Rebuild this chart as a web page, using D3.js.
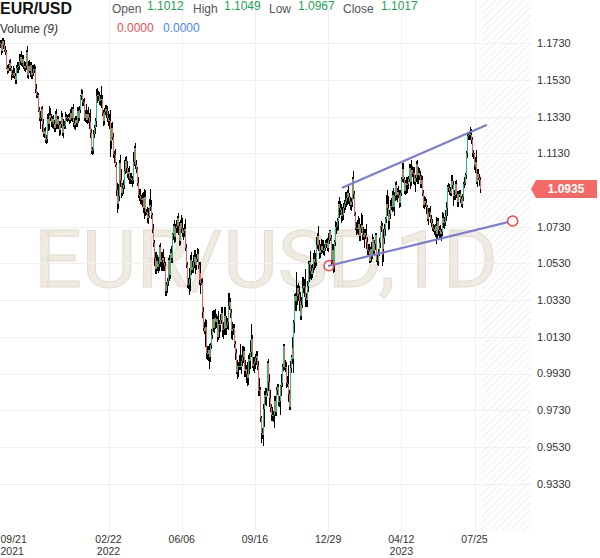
<!DOCTYPE html>
<html><head><meta charset="utf-8">
<script src="https://cdn.jsdelivr.net/npm/d3@7"></script>
<style>html,body{margin:0;padding:0;background:#fff}svg{display:block}</style>
</head><body><svg id="chart" width="600" height="558"></svg>
<script>
// ---------------- DATA ----------------
const symbol = "EUR/USD";
const watermark = "EUR/USD,1D";
const startDate = "2021-09-21";          // first daily bar (weekdays only)
const firstOpen = 1.1730;
// daily closes, one line per week
const closes = [
1.1725,1.1690,1.1740,1.1720,
1.1695,1.1683,1.1597,1.1580,1.1595,
1.1620,1.1597,1.1555,1.1555,1.1570,
1.1552,1.1530,1.1595,1.1595,1.1600,
1.1608,1.1635,1.1655,1.1623,1.1645,
1.1607,1.1597,1.1605,1.1680,1.1558,
1.1607,1.1580,1.1610,1.1555,1.1567,
1.1588,1.1590,1.1480,1.1445,1.1445,
1.1368,1.1320,1.1320,1.1370,1.1287,
1.1235,1.1250,1.1200,1.1208,1.1317,
1.1290,1.1337,1.1320,1.1300,1.1315,
1.1287,1.1268,1.1343,1.1290,1.1315,
1.1285,1.1258,1.1290,1.1330,1.1240,
1.1280,1.1280,1.1328,1.1325,1.1320,
1.1327,1.1310,1.1350,1.1325,1.1370,
1.1295,1.1285,1.1313,1.1295,1.1360,
1.1325,1.1367,1.1440,1.1455,1.1412,
1.1408,1.1325,1.1345,1.1312,1.1345,
1.1325,1.1302,1.1240,1.1145,1.1146,
1.1235,1.1270,1.1305,1.1440,1.1450,
1.1440,1.1415,1.1425,1.1425,1.1350,
1.1305,1.1357,1.1370,1.1360,1.1320,
1.1305,1.1310,1.1307,1.1195,1.1270,
1.1220,1.1125,1.1120,1.1065,1.0930,
1.0855,1.0900,1.1075,1.0985,1.0915,
1.0940,1.0955,1.1035,1.1090,1.1050,
1.1015,1.1030,1.0995,1.0995,1.0985,
1.0985,1.1085,1.1160,1.1065,1.1045,
1.0970,1.0905,1.0900,1.0880,1.0875,
1.0885,1.0830,1.0890,1.0810,1.0810,
1.0780,1.0790,1.0850,1.0835,1.0795,
1.0715,1.0640,1.0560,1.0500,1.0545,
1.0510,1.0525,1.0620,1.0540,1.0550,
1.0560,1.0530,1.0515,1.0380,1.0410,
1.0435,1.0550,1.0465,1.0585,1.0560,
1.0690,1.0735,1.0675,1.0725,1.0735,
1.0775,1.0735,1.0650,1.0750,1.0720,
1.0695,1.0705,1.0715,1.0615,1.0520,
1.0410,1.0420,1.0445,1.0550,1.0495,
1.0510,1.0535,1.0565,1.0520,1.0555,
1.0580,1.0520,1.0440,1.0480,1.0425,
1.0425,1.0265,1.0180,1.0160,1.0185,
1.0040,1.0035,1.0060,1.0020,1.0085,
1.0140,1.0225,1.0180,1.0230,1.0210,
1.0225,1.0130,1.0200,1.0195,1.0220,
1.0260,1.0165,1.0170,1.0245,1.0180,
1.0195,1.0210,1.0300,1.0320,1.0260,
1.0160,1.0170,1.0180,1.0090,1.0040,
0.9940,0.9970,0.9970,0.9970,0.9965,
1.0000,1.0020,1.0055,0.9945,0.9955,
0.9925,0.9905,1.0010,1.0000,1.0045,
1.0120,0.9970,0.9980,0.9995,1.0015,
1.0025,0.9970,0.9835,0.9840,0.9690,
0.9605,0.9595,0.9735,0.9815,0.9800,
0.9825,0.9985,0.9885,0.9795,0.9740,
0.9705,0.9705,0.9705,0.9780,0.9720,
0.9840,0.9855,0.9775,0.9780,0.9860,
0.9880,0.9965,1.0080,0.9965,0.9965,
0.9880,0.9875,0.9820,0.9750,0.9960,
1.0020,1.0070,1.0010,1.0205,1.0355,
1.0325,1.0350,1.0395,1.0365,1.0325,
1.0245,1.0305,1.0395,1.0405,1.0400,
1.0340,1.0330,1.0405,1.0525,1.0535,
1.0490,1.0470,1.0505,1.0555,1.0535,
1.0535,1.0630,1.0680,1.0630,1.0585,
1.0605,1.0625,1.0605,1.0595,1.0615,
1.0640,1.0640,1.0615,1.0660,1.0705,
1.0670,1.0550,1.0605,1.0520,1.0645,
1.0730,1.0735,1.0760,1.0855,1.0830,
1.0820,1.0790,1.0795,1.0830,1.0855,
1.0870,1.0885,1.0915,1.0890,1.0870,
1.0850,1.0865,1.0990,1.0910,1.0795,
1.0725,1.0725,1.0715,1.0745,1.0680,
1.0725,1.0740,1.0685,1.0675,1.0695,
1.0685,1.0645,1.0605,1.0595,1.0545,
1.0610,1.0575,1.0665,1.0600,1.0635,
1.0685,1.0550,1.0545,1.0580,1.0640,
1.0730,1.0735,1.0575,1.0610,1.0670,
1.0720,1.0770,1.0855,1.0830,1.0760,
1.0800,1.0845,1.0840,1.0905,1.0840,
1.0900,1.0955,1.0905,1.0920,1.0905,
1.0860,1.0915,1.0990,1.1045,1.0990,
1.0925,1.0970,1.0955,1.0965,1.0990,
1.1050,1.0975,1.1040,1.1025,1.1020,
1.0975,1.0995,1.1070,1.1010,1.1020,
1.1005,1.0960,1.0985,1.0915,1.0850,
1.0870,1.0860,1.0840,1.0770,1.0805,
1.0810,1.0770,1.0750,1.0725,1.0720,
1.0705,1.0735,1.0690,1.0760,1.0710,
1.0710,1.0690,1.0700,1.0780,1.0750,
1.0755,1.0790,1.0830,1.0945,1.0940,
1.0925,1.0915,1.0980,1.0955,1.0895,
1.0905,1.0960,1.0910,1.0865,1.0910,
1.0910,1.0880,1.0855,1.0890,1.0965,
1.0970,1.1010,1.1130,1.1225,1.1230,
1.1235,1.1230,1.1200,1.1130,1.1125,
1.1065,1.1055,1.1085,1.0975,1.1015,
1.0995,1.0985,1.0935
];
// high above the candle body, in pips
const wickUp = [
15,25,20,18,
30,20,10,15,20, 20,25,10,30,35, 25,15,15,25,25, 20,35,15,30,20, 20,25,25,12,35,
25,30,15,20,45, 25,25,15,25,20, 15,15,40,15,20, 30,20,25,20,25, 35,50,40,25,20,
25,25,20,30,20, 20,20,15,30,20, 35,25,25,15,15, 15,25,20,35,15, 30,25,20,20,20,
25,20,10,27,20, 15,25,20,55,20, 40,25,70,20,20, 20,15,20,40,35, 20,25,20,70,20,
15,20,25,25,30, 40,30,35,60,25, 30,20,20,35,20, 40,60,20,45,60, 30,30,60,20,25,
40,20,30,25,25, 20,50,10,25,30, 10,30,30,35,25, 30,35,45,40,15, 25,40,30,85,40,
10,30,20,30,48, 30,40,10,20,40, 30,50,35,20,20, 15,10,25,25,40, 8,10,30,20,30,
12,30,20,15,45, 55,20,30,59,20, 20,30,60,25,40, 35,40,40,40,25, 35,26,20,30,60,
20,25,30,30,40, 35,40,20,30,10, 30,45,50,48,50, 30,20,70,20,35, 35,30,40,50,45,
50,20,70,48,20, 20,40,20,20,15, 25,35,20,60,120, 30,60,25,20,50, 20,65,20,30,68,
78,20,40,25,20, 25,25,30,65,15, 10,30,30,20,38, 25,14,25,40,45, 25,40,20,27,28,
17,20,20,30,10, 50,15,13,10,40, 30,35,100,20,36, 13,25,60,15,10, 11,131,15,30,40,
50,40,60,50,40, 97,30,30,20,10, 60,30,20,30,50, 50,43,15,56,30, 30,40,30,50,20,
20,25,30,35,8, 5,13,30,30,15, 30,20,20,15,35, 40,35,40,30,20, 50,35,15,40,25,
20,20,10,43,15, 15,30,40,45,30, 20,65,55,45,20, 20,60,30,30,40, 10,35,25,10,25,
10,9,30,30,30, 5,25,15,25,45, 25,15,50,75,70, 20,30,40,20,35, 20,18,25,20,30,
25,15,10,30,30, 10,15,30,35,15, 20,20,55,20,30, 35,15,20,21,35, 30,30,25,20,15,
25,20,20,10,25, 20,35,25,20,20, 20,10,50,15,20, 25,30,20,30,25, 30,30,35,10,25,
20,20,30,32,25, 25,20,25,15,15, 20,20,20,20,10, 30,10,10,20,15, 15,41,30,20,20,
5,25,25,64,30,
30,20,15
];
// low below the candle body, in pips
const wickDown = [
20,25,15,22,
15,20,10,20,15, 15,20,25,15,15, 15,20,20,20,25, 30,25,25,15,25, 20,20,25,20,15,
25,15,35,20,20, 15,20,20,15,15, 15,15,55,15,40, 15,20,14,20,20, 40,35,15,25,30,
25,20,20,30,25, 20,35,30,20,15, 25,20,20,20,20, 15,20,15,20,25, 20,20,30,20,20,
30,20,20,20,25, 20,20,25,15,20, 30,40,25,20,24, 20,20,35,30,35, 25,20,25,50,15,
25,20,20,35,20, 25,40,20,85,40, 20,20,45,10,30, 49,30,30,40,30, 20,30,20,20,30,
20,30,30,35,20, 40,25,25,20,20, 20,20,30,25,25, 40,25,60,20,15, 30,35,15,20,25,
20,20,45,30,30, 20,30,35,30,50, 60,40,25,25,30, 40,30,30,20,30, 30,35,35,30,30,
40,50,25,20,25, 20,40,30,20,15, 12,20,61,63,30, 20,30,30,50,25, 20,20,25,40,60,
15,30,18,15,88, 30,30,37,68,30, 20,20,25,27,40, 30,30,20,70,40, 20,35,45,30,40,
40,25,45,25,25, 40,50,30,20,35, 15,40,60,20,15, 35,30,35,35,35, 48,45,40,71,45,
25,10,25,45,40, 40,20,25,27,22, 52,24,59,99,40, 47,20,50,45,20, 35,35,40,73,20,
20,25,20,25,75, 53,25,20,15,25, 30,20,45,20,20, 25,30,30,75,55, 55,54,45,40,55,
22,25,20,25,55, 50,40,40,30,95, 45,30,20,30,40, 30,20,20,35,30, 25,25,20,20,25,
20,25,20,25,25, 20,31,30,40,37, 20,40,30,50,50, 24,40,30,30,25, 35,35,35,35,25,
30,35,30,30,5, 15,40,25,30,30, 30,30,30,20,63, 20,35,30,25,12, 12,35,20,30,20,
30,15,21,30,10, 25,30,59,35,35, 35,40,20,40,47, 40,30,20,30,25, 52,30,30,40,20,
30,25,20,15,20, 15,20,45,40,30, 15,40,25,25,55, 20,55,20,45,45, 20,20,20,20,20,
25,20,40,10,30, 20,20,20,20,20, 20,30,55,25,30, 40,20,40,20,25, 30,20,30,40,20,
20,20,20,20,51, 20,30,25,30,30, 20,20,20,22,20, 25,15,20,25,25, 30,25,20,20,25,
25,35,15,10,30,
13,33,23
];
const priceTicks = [1.1730,1.1530,1.1330,1.1130,1.0930,1.0730,1.0530,1.0330,1.0130,0.9930,0.9730,0.9530,0.9330];
const dateTicks = ["2021-09-21","2022-02-22","2022-06-06","2022-09-16","2022-12-29","2023-04-12","2023-07-25"];
const dateTickLabels = [["09/21","2021"],["02/22","2022"],["06/06"],["09/16"],["12/29"],["04/12","2023"],["07/25"]];
// trend lines: [bar index, price]
const upperTrend = [[346.8,1.0943],[491.7,1.1283]];
const lowerTrend = [[332.9,1.0517],[518.6,1.0761]];
const headerLabels = ["Open","High","Low","Close"];
const headerValues = ["1.1012","1.1049","1.0967","1.1017"];
const volumeValues = ["0.0000","0.0000"];

// ---------------- LAYOUT ----------------
const W = 600, H = 558, plotRight = 531, plotBottom = 531;
const FONT = "Arial, 'Liberation Sans', sans-serif";
const UP = "#1fc27a", DOWN = "#f0615c";

// weekday dates
const dates = [];
{ let t = Date.parse(startDate + "T00:00:00Z");
  while (dates.length < closes.length) { const d = new Date(t); const wd = d.getUTCDay();
    if (wd > 0 && wd < 6) dates.push(d.toISOString().slice(0,10)); t += 86400000; } }
const tickIdx = dateTicks.map(d => dates.indexOf(d));

const x = d3.scaleLinear().domain([tickIdx[1], tickIdx[6]]).range([108.5, 474.5]);
const y = d3.scaleLinear().domain([0.9330, 1.1730]).range([483.6, 43.2]);

const bars = closes.map((c, i) => {
  const o = i === 0 ? firstOpen : closes[i-1];
  return {i, o, c, hi: Math.max(o,c) + wickUp[i]/1e4, lo: Math.min(o,c) - wickDown[i]/1e4};
});

const svg = d3.select("#chart");
svg.append("rect").attr("width", W).attr("height", H).attr("fill", "#fff");
const defs = svg.append("defs");
defs.append("clipPath").attr("id","clip").append("rect").attr("x",0).attr("y",0).attr("width",plotRight).attr("height",plotBottom);
const pat = defs.append("pattern").attr("id","hatch").attr("patternUnits","userSpaceOnUse")
  .attr("width",5).attr("height",5).attr("patternTransform","rotate(45)");
pat.append("line").attr("x1",0).attr("y1",0).attr("x2",0).attr("y2",5).attr("stroke","#e6e6e6").attr("stroke-width",1.2);

// future (hatched) area
const lastX = x(closes.length - 1);
svg.append("rect").attr("x", lastX + 1).attr("y", 0).attr("width", plotRight - lastX - 1).attr("height", plotBottom)
  .attr("fill","url(#hatch)");

// watermark
svg.append("text").attr("x", 34).attr("y", 287).attr("font-family","Roboto, sans-serif").attr("font-size", 80)
  .attr("textLength", 464).attr("lengthAdjust","spacingAndGlyphs")
  .attr("fill","#efebe2").attr("stroke","#e3ddcf").attr("stroke-width",1).text(watermark);

// grid
const grid = svg.append("g").attr("shape-rendering","crispEdges");
grid.selectAll("line.h").data(priceTicks).join("line").attr("class","h")
  .attr("x1",0).attr("x2",plotRight).attr("y1",d=>Math.round(y(d))+0.5).attr("y2",d=>Math.round(y(d))+0.5)
  .attr("stroke","#f0f0f0");
grid.selectAll("line.v").data(tickIdx.slice(1)).join("line").attr("class","v")
  .attr("y1",0).attr("y2",plotBottom).attr("x1",d=>Math.round(x(d))+0.5).attr("x2",d=>Math.round(x(d))+0.5)
  .attr("stroke","#f0f0f0");

// candles
const cg = svg.append("g").attr("clip-path","url(#clip)").attr("shape-rendering","crispEdges");
const cand = cg.selectAll("g").data(bars).join("g");
cand.append("rect").attr("x", d => Math.round(x(d.i))).attr("width", 1)
  .attr("y", d => y(d.hi)).attr("height", d => y(d.lo) - y(d.hi)).attr("fill", "#000");
cand.append("rect").attr("x", d => Math.round(x(d.i))).attr("width", 1)
  .attr("y", d => y(Math.max(d.o,d.c))).attr("height", d => Math.max(1, Math.abs(y(d.o) - y(d.c))))
  .attr("fill", d => d.c >= d.o ? UP : DOWN);

// trend lines
const line = d3.line().x(d => x(d[0])).y(d => y(d[1]));
[upperTrend, lowerTrend].forEach(t => {
  svg.append("path").attr("d", line(t)).attr("fill","none").attr("stroke","#7c7ec8").attr("stroke-width",2.2)
    .attr("stroke-linecap","round");
});
svg.append("circle").attr("cx", x(lowerTrend[0][0])).attr("cy", y(lowerTrend[0][1])).attr("r", 5)
  .attr("fill","none").attr("stroke","#ee4444").attr("stroke-width",1.5);
svg.append("circle").attr("cx", x(lowerTrend[1][0])).attr("cy", y(lowerTrend[1][1])).attr("r", 5)
  .attr("fill","#fff").attr("stroke","#ee4444").attr("stroke-width",1.5);

// last price tag position
const lastClose = closes[closes.length-1];
const ly = y(lastClose);

// price axis labels (the one hidden under the price tag is not drawn)
svg.append("g").selectAll("text").data(priceTicks.filter(d => Math.abs(y(d) - ly) > 12)).join("text")
  .attr("x", 537).attr("y", d => y(d)).attr("dy","0.36em")
  .attr("font-family", FONT).attr("font-size", 11).attr("fill","#333")
  .text(d => d.toFixed(4));

// last price tag
svg.append("path").attr("d", `M531,${ly} L536,${ly-9} L597,${ly-9} L597,${ly+9} L536,${ly+9} Z`).attr("fill","#f26b67");
svg.append("text").attr("x", 566).attr("y", ly).attr("dy","0.36em").attr("text-anchor","middle")
  .attr("font-family", FONT).attr("font-size", 12).attr("font-weight","bold").attr("fill","#fff").text(lastClose.toFixed(4));

// date axis labels
const dg = svg.append("g").attr("font-family", FONT).attr("font-size", 10.5).attr("fill","#333");
tickIdx.forEach((ti, k) => {
  const first = k === 0;
  dateTickLabels[k].forEach((s, j) => dg.append("text")
    .attr("x", first ? 0.5 : x(ti)).attr("y", 542.5 + j*12)
    .attr("text-anchor", first ? "start" : "middle").text(s));
});

// header
const hd = svg.append("g").attr("font-family", FONT);
hd.append("text").attr("x", 0).attr("y", 14).attr("font-size", 16).attr("font-weight","bold").attr("fill","#111").text(symbol);
const labelX = [112, 193, 269, 343], valueX = [147, 224, 298, 381];
headerLabels.forEach((s, k) => {
  hd.append("text").attr("x", labelX[k]).attr("y", 12.5).attr("font-size", 12).attr("fill","#555").text(s);
  hd.append("text").attr("x", valueX[k]).attr("y", 10.3).attr("font-size", 12).attr("fill","#1ea15a").text(headerValues[k]);
});
const vt = hd.append("text").attr("x", 0).attr("y", 33).attr("font-size", 12).attr("fill","#333");
vt.append("tspan").text("Volume ");
vt.append("tspan").attr("font-style","italic").text("(9)");
hd.append("text").attr("x", 117).attr("y", 31.5).attr("font-size", 12).attr("fill","#e05252").text(volumeValues[0]);
hd.append("text").attr("x", 163).attr("y", 31.5).attr("font-size", 12).attr("fill","#4a86e8").text(volumeValues[1]);
</script>
</body></html>
